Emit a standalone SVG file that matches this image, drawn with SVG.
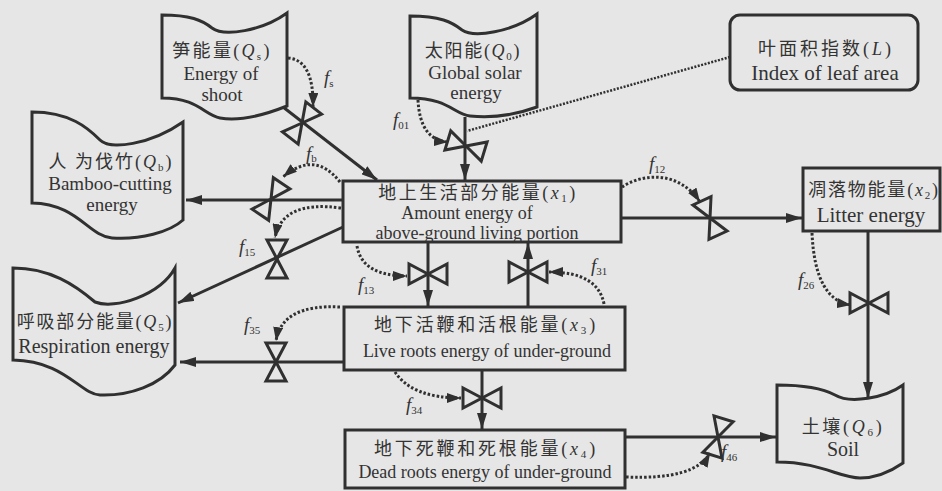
<svg xmlns="http://www.w3.org/2000/svg" width="942" height="491" viewBox="0 0 942 491">
<defs>
<style>
.box{fill:none;stroke:#303030;stroke-width:3;stroke-linejoin:miter}
.ln{fill:none;stroke:#303030;stroke-width:3}
.dot{fill:none;stroke:#303030;stroke-width:3;stroke-dasharray:2.5 2}
.lf{fill:none;stroke:#303030;stroke-width:2.5;stroke-dasharray:2 1.5}
.vl{fill:none;stroke:#303030;stroke-width:3;stroke-linejoin:miter}
.t{font-family:'Liberation Serif','Noto Sans CJK SC',serif;fill:#333;text-anchor:middle;font-size:19px}
.c{font-size:18px}
.e18{font-size:18px}
.e20{font-size:20px}
.e21{font-size:21px}
.lb{font-family:'Liberation Serif',serif;fill:#333;font-size:19px}
.i{font-style:italic}
.s{font-size:11px;font-style:normal}
</style>
<marker id="ah" viewBox="0 0 16 10" refX="16" refY="5" markerWidth="16" markerHeight="10" markerUnits="userSpaceOnUse" orient="auto"><path d="M0,0 L16,5 L0,10 Z" fill="#303030"/></marker>
<marker id="ahd" viewBox="0 0 14 10" refX="14" refY="5" markerWidth="14" markerHeight="10" markerUnits="userSpaceOnUse" orient="auto"><path d="M0,0 L14,5 L0,10 Z" fill="#303030"/></marker>
<path id="valve" d="M0,0 L-19,-10 L-19,10 Z M0,0 L19,-10 L19,10 Z"/>
</defs>
<rect x="0" y="0" width="942" height="491" fill="#e6e6e6"/>

<g id="connectors">
<path class="ln" d="M283,107 L377,180" marker-end="url(#ah)"/>
<path class="ln" d="M465,117 L465,180" marker-end="url(#ah)"/>
<path class="ln" d="M343,200 L186,200" marker-end="url(#ah)"/>
<path class="ln" d="M343,227 L178,303" marker-end="url(#ah)"/>
<path class="ln" d="M428,242 L428,306" marker-end="url(#ah)"/>
<path class="ln" d="M528,307 L528,243" marker-end="url(#ah)"/>
<path class="ln" d="M621,218 L802,218" marker-end="url(#ah)"/>
<path class="ln" d="M868,231 L868,398" marker-end="url(#ah)"/>
<path class="ln" d="M344,362 L180,362" marker-end="url(#ah)"/>
<path class="ln" d="M482,370 L482,429" marker-end="url(#ah)"/>
<path class="ln" d="M625,437 L776,437" marker-end="url(#ah)"/>

<path class="lf" d="M730,57 L467,131"/>

<path class="dot" d="M288,58 Q314,60 313,107" marker-end="url(#ahd)"/>
<path class="dot" d="M418,100 Q420,140 448,142" marker-end="url(#ahd)"/>
<path class="dot" d="M340,182 Q315,150 283,177" marker-end="url(#ahd)"/>
<path class="dot" d="M341,208 Q282,200 275,238" marker-end="url(#ahd)"/>
<path class="dot" d="M357,246 Q362,276 407,276" marker-end="url(#ahd)"/>
<path class="dot" d="M604,304 Q598,272 549,272" marker-end="url(#ahd)"/>
<path class="dot" d="M340,307 Q282,304 276,341" marker-end="url(#ahd)"/>
<path class="dot" d="M395,372 Q412,398 461,398" marker-end="url(#ahd)"/>
<path class="dot" d="M622,187 C645,172 680,172 700,202" marker-end="url(#ahd)"/>
<path class="dot" d="M812,233 Q815,300 851,305" marker-end="url(#ahd)"/>
<path class="dot" d="M626,477 Q695,480 710,453" marker-end="url(#ahd)"/>

<use href="#valve" class="vl" transform="translate(302,123) rotate(-52)"/>
<use href="#valve" class="vl" transform="translate(466,146) rotate(17)"/>
<use href="#valve" class="vl" transform="translate(271,199) rotate(-56)"/>
<use href="#valve" class="vl" transform="translate(277,259) rotate(90)"/>
<use href="#valve" class="vl" transform="translate(428,274)"/>
<use href="#valve" class="vl" transform="translate(528,272)"/>
<use href="#valve" class="vl" transform="translate(276,362) rotate(90)"/>
<use href="#valve" class="vl" transform="translate(482,398)"/>
<use href="#valve" class="vl" transform="translate(710,218) rotate(65)"/>
<use href="#valve" class="vl" transform="translate(869,303)"/>
<use href="#valve" class="vl" transform="translate(718,437) rotate(-73)"/>

<text class="lb" x="324" y="84"><tspan class="i">f</tspan><tspan class="s" dy="3">s</tspan></text>
<text class="lb" x="393" y="126"><tspan class="i">f</tspan><tspan class="s" dy="3">01</tspan></text>
<text class="lb" x="306" y="160"><tspan class="i">f</tspan><tspan class="s" dy="2">b</tspan></text>
<text class="lb" x="239" y="253"><tspan class="i">f</tspan><tspan class="s" dy="3">15</tspan></text>
<text class="lb" x="358" y="291"><tspan class="i">f</tspan><tspan class="s" dy="3">13</tspan></text>
<text class="lb" x="591" y="272"><tspan class="i">f</tspan><tspan class="s" dy="3">31</tspan></text>
<text class="lb" x="244" y="331"><tspan class="i">f</tspan><tspan class="s" dy="3">35</tspan></text>
<text class="lb" x="406" y="411"><tspan class="i">f</tspan><tspan class="s" dy="3">34</tspan></text>
<text class="lb" x="649" y="170"><tspan class="i">f</tspan><tspan class="s" dy="3">12</tspan></text>
<text class="lb" x="798" y="286"><tspan class="i">f</tspan><tspan class="s" dy="3">26</tspan></text>
<text class="lb" x="721" y="458"><tspan class="i">f</tspan><tspan class="s" dy="3">46</tspan></text>
</g>

<g id="node-shoot">
<path class="box" d="M162,15 C190,15 202,20 212,28 C224,37 262,31 287,13 L287,106 C262,116 238,121 220,118 C204,115 198,98 162,98 Z"/>
<text class="t c" x="222" y="57" letter-spacing="2.3">笋能量(<tspan class="i">Q</tspan><tspan font-size="11" dy="3">s</tspan><tspan dy="-3">)</tspan></text>
<text class="t" x="221" y="80">Energy of</text>
<text class="t" x="222" y="101">shoot</text>
</g>

<g id="node-solar">
<path class="box" d="M410,16 C440,16 452,22 462,30 C474,38 512,32 537,14 L537,107 C512,116 488,118 470,116 C454,114 448,98 410,98 Z"/>
<text class="t c" x="473" y="57" letter-spacing="1.7">太阳能(<tspan class="i">Q</tspan><tspan font-size="11" dy="3">0</tspan><tspan dy="-3">)</tspan></text>
<text class="t" x="475" y="79">Global solar</text>
<text class="t" x="476" y="99">energy</text>
</g>

<g id="node-leaf">
<rect class="box" x="730" y="15" width="188" height="75" rx="10"/>
<text class="t c" x="826" y="55" letter-spacing="3">叶面积指数(<tspan class="i">L</tspan>)</text>
<text class="t e21" x="825" y="80">Index of leaf area</text>
</g>

<g id="node-cutting">
<path class="box" d="M32,112 C70,112 88,128 100,140 C110,150 150,145 183,122 L183,220 C170,232 140,240 112,238 C88,236 78,204 32,203 Z"/>
<text class="t c" x="111" y="168" letter-spacing="2">人 为伐竹(<tspan class="i">Q</tspan><tspan font-size="11" dy="3">b</tspan><tspan dy="-3">)</tspan></text>
<text class="t" x="110" y="190">Bamboo-cutting</text>
<text class="t" x="112" y="211">energy</text>
</g>

<g id="node-resp">
<path class="box" d="M13,268 C50,268 75,285 95,302 C115,310 160,295 175,268 L175,365 C160,385 130,396 100,395 C80,394 65,361 13,360 Z"/>
<text class="t c" x="95" y="328" letter-spacing="1.8">呼吸部分能量(<tspan class="i">Q</tspan><tspan font-size="11" dy="3">5</tspan><tspan dy="-3">)</tspan></text>
<text class="t e20" x="94" y="353">Respiration energy</text>
</g>

<g id="node-x1">
<rect class="box" x="343" y="181" width="278" height="61"/>
<text class="t c" x="478" y="199" letter-spacing="2.5">地上生活部分能量(<tspan class="i">x</tspan><tspan font-size="11" dy="3">1</tspan><tspan dy="-3">)</tspan></text>
<text class="t e18" x="467" y="219">Amount energy of</text>
<text class="t e18" x="477" y="239">above-ground living portion</text>
</g>

<g id="node-x2">
<rect class="box" x="803" y="168" width="137" height="63"/>
<text class="t c" x="874" y="196" letter-spacing="1.8">凋落物能量(<tspan class="i">x</tspan><tspan font-size="11" dy="3">2</tspan><tspan dy="-3">)</tspan></text>
<text class="t e21" x="871" y="222">Litter energy</text>
</g>

<g id="node-x3">
<rect class="box" x="344" y="307" width="281" height="63"/>
<text class="t c" x="486" y="331" letter-spacing="2.8">地下活鞭和活根能量(<tspan class="i">x</tspan><tspan font-size="11" dy="3">3</tspan><tspan dy="-3">)</tspan></text>
<text class="t e18" x="487" y="357">Live roots energy of under-ground</text>
</g>

<g id="node-x4">
<rect class="box" x="345" y="430" width="280" height="58"/>
<text class="t c" x="486" y="455" letter-spacing="2.8">地下死鞭和死根能量(<tspan class="i">x</tspan><tspan font-size="11" dy="3">4</tspan><tspan dy="-3">)</tspan></text>
<text class="t e18" x="485" y="478">Dead roots energy of under-ground</text>
</g>

<g id="node-soil">
<path class="box" d="M777,385 C805,385 822,388 835,395 C850,404 885,398 903,385 L903,463 C890,472 875,478 860,478 C840,478 820,462 777,462 Z"/>
<text class="t c" x="843" y="433" letter-spacing="2.7">土壤(<tspan class="i">Q</tspan><tspan font-size="11" dy="3">6</tspan><tspan dy="-3">)</tspan></text>
<text class="t e20" x="843" y="456">Soil</text>
</g>
</svg>
